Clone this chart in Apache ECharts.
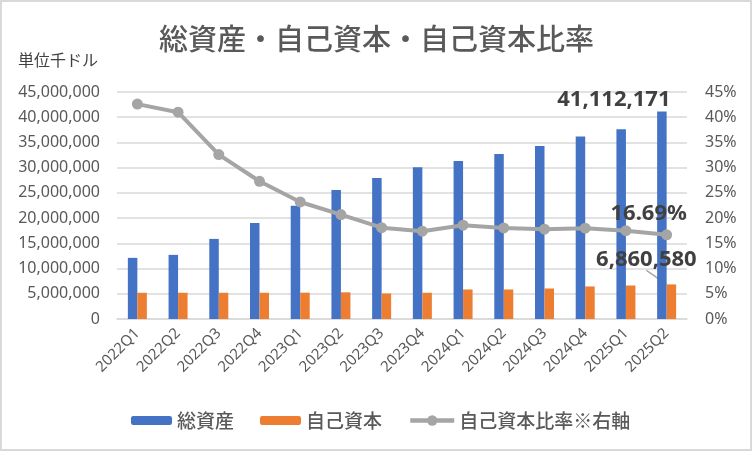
<!DOCTYPE html>
<html><head><meta charset="utf-8">
<script src="https://cdn.jsdelivr.net/npm/echarts@6/dist/echarts.min.js"></script>
<style>html,body{margin:0;padding:0;background:#fff}#c{width:753px;height:452px}</style>
</head><body><div id="c"></div>
<script>
const categories = ['2022Q1','2022Q2','2022Q3','2022Q4','2023Q1','2023Q2','2023Q3','2023Q4','2024Q1','2024Q2','2024Q3','2024Q4','2025Q1','2025Q2'];
const totalAssets = [12120000,12710000,15880000,19040000,22460000,25560000,27940000,30100000,31300000,32700000,34300000,36200000,37600000,41112171];
const equity = [5200000,5200000,5200000,5200000,5220000,5290000,5060000,5200000,5850000,5850000,6050000,6450000,6640000,6860580];
const equityRatio = [42.6,41.0,32.6,27.3,23.2,20.7,18.1,17.4,18.6,18.05,17.8,18.0,17.5,16.69];
const leftTicks = {min:0, max:45000000, interval:5000000};
const rightTicks = {min:0, max:45, interval:5};

const FONT = '"Noto Sans", "Noto Sans CJK JP", sans-serif';
const JP = '"Noto Sans CJK JP", sans-serif';
const last = categories.length - 1;
const fmt = v => Number(v).toLocaleString('en-US');
const legendText = {fontSize:19, fontWeight:500, color:'#595959', fontFamily:JP};

const chart = echarts.init(document.getElementById('c'), null, {renderer:'canvas'});
chart.setOption({
  backgroundColor:'#fff',
  animation:false,
  textStyle:{fontFamily:FONT},
  title:{text:'総資産・自己資本・自己資本比率', left:'center', top:19,
    textStyle:{fontSize:29, fontWeight:500, color:'#595959', fontFamily:JP}},
  graphic:[
    {type:'rect', shape:{x:1, y:1, width:750, height:449}, style:{fill:'none', stroke:'#d9d9d9', lineWidth:2}, silent:true},
    {type:'text', left:18, top:52, style:{text:'単位千ドル', fontSize:16, fill:'#404040', fontFamily:JP}}
  ],
  grid:{left:117, right:66, top:92, bottom:133},
  legend:[
    {left:131, top:411, padding:0, itemWidth:41, itemHeight:9, itemGap:26, textStyle:legendText,
      data:['総資産','自己資本']},
    {left:408, top:411, padding:0, itemWidth:44, itemHeight:13, textStyle:legendText,
      data:[{name:'自己資本比率※右軸', lineStyle:{width:4.5, color:'#A5A5A5'}, itemStyle:{color:'#A5A5A5'}}]}
  ],
  xAxis:{type:'category', data:categories,
    axisLine:{lineStyle:{color:'#d9d9d9', width:1.5}}, axisTick:{show:false},
    axisLabel:{rotate:45, fontSize:15, color:'#595959', margin:12, interval:0}},
  yAxis:[
    {type:'value', min:leftTicks.min, max:leftTicks.max, interval:leftTicks.interval,
      axisLine:{show:false}, axisTick:{show:false},
      splitLine:{lineStyle:{color:'#d9d9d9', width:1.5}},
      axisLabel:{fontSize:16, color:'#595959', margin:17, formatter:v=>fmt(v)}},
    {type:'value', min:rightTicks.min, max:rightTicks.max, interval:rightTicks.interval,
      axisLine:{show:false}, axisTick:{show:false}, splitLine:{show:false},
      axisLabel:{fontSize:16, color:'#595959', margin:18, formatter:'{value}%'}}
  ],
  series:[
    {name:'総資産', type:'bar', barWidth:9.5, barGap:'0%', itemStyle:{color:'#4472C4'},
      data: totalAssets.map((v,i)=> i===last ? {value:v, label:{show:true, position:'top', offset:[-48,4],
        formatter:p=>fmt(p.value), fontSize:22, fontWeight:'bold', color:'#404040'}} : v)},
    {name:'自己資本', type:'bar', barWidth:9.5, barGap:'0%', itemStyle:{color:'#ED7D31'},
      data: equity.map((v,i)=> i===last ? {value:v, label:{show:true, position:'top',
        formatter:p=>fmt(p.value), fontSize:22, fontWeight:'bold', color:'#404040'},
        labelLine:{show:true, lineStyle:{color:'#a5a5a5', width:1.5}}} : v),
      labelLayout: p => p.dataIndex===last ? {dx:-25, dy:-9} : {}},
    {name:'自己資本比率※右軸', type:'line', yAxisIndex:1, symbol:'circle', symbolSize:11,
      lineStyle:{color:'#A5A5A5', width:4}, itemStyle:{color:'#A5A5A5'},
      data: equityRatio.map((v,i)=> i===last ? {value:v, label:{show:true, position:'top', offset:[-18,0],
        formatter:p=>p.value.toFixed(2)+'%', fontSize:22, fontWeight:'bold', color:'#404040'}} : v)}
  ]
});
</script></body></html>
